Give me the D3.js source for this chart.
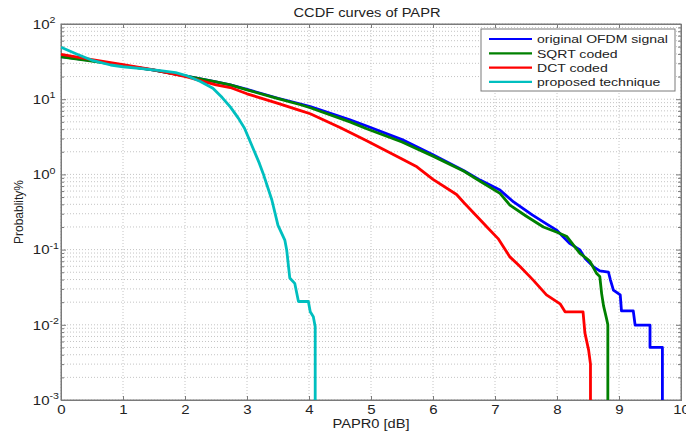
<!DOCTYPE html>
<html><head><meta charset="utf-8">
<script src="https://cdn.jsdelivr.net/npm/d3@7"></script>
<style>
body{margin:0;background:#fff;}
text{font-family:"Liberation Sans",Arial,sans-serif;}
</style></head>
<body><svg id="c" width="686" height="432"></svg>
<script>
const seriesNames = ["original OFDM signal","SQRT coded","DCT coded","proposed technique"];
const seriesColors = ["#0000ff","#008000","#ff0000","#00bfbf"];
const xTicks = [0,1,2,3,4,5,6,7,8,9,10];
const yTickExps = [2,1,0,-1,-2,-3];

const ofdmX = [0,0.5,1.0,1.5,2.0,2.5,2.73,3.0,3.5,3.85,4.02,4.66,4.93,5.5,6.0,6.5,6.76,7.08,7.3,7.6,7.83,8.0,8.21,8.37,8.45,8.59,8.69,8.83,8.86,8.91,9.02,9.04,9.23,9.26,9.50,9.50,9.70,9.70];
const ofdmY = [37,32.5,28.2,24.3,20.5,17,15.5,13.5,10.3,8.7,8.0,5.3,4.4,2.9,1.82,1.12,0.84,0.62,0.43,0.29,0.22,0.18,0.12,0.099,0.077,0.059,0.052,0.05,0.04,0.029,0.025,0.0153,0.0153,0.0099,0.0099,0.005,0.005,0.001];

const sqrtX = [0,0.5,1.0,1.5,2.0,2.5,2.73,3.0,3.5,3.85,4.02,4.66,4.93,5.5,6.0,6.5,6.76,7.08,7.24,7.5,7.78,8.0,8.16,8.37,8.48,8.53,8.64,8.69,8.72,8.75,8.80,8.82,8.82];
const sqrtY = [36.5,32,28,24.3,20.5,17,15.5,13.3,10.2,8.5,7.7,5.0,4.05,2.7,1.75,1.1,0.81,0.56,0.39,0.28,0.20,0.17,0.149,0.089,0.076,0.07,0.048,0.044,0.026,0.018,0.012,0.01,0.001];

const dctX = [0,0.5,1.0,1.5,2.03,2.5,2.73,3.0,3.5,3.85,4.02,4.5,4.93,5.5,5.74,6.0,6.38,6.5,6.76,6.87,7.05,7.24,7.4,7.62,7.83,8.05,8.13,8.42,8.45,8.51,8.54,8.54];
const dctY = [39.5,33.5,28.8,24.5,19.8,15.5,14.3,11.8,8.8,7.1,6.4,4.2,2.8,1.6,1.26,0.86,0.54,0.42,0.25,0.2,0.14,0.08,0.06,0.039,0.025,0.019,0.0149,0.0149,0.0078,0.0046,0.003,0.001];

const propX = [0,0.25,0.52,0.8,1.0,1.3,1.6,1.85,2.03,2.24,2.45,2.6,2.73,2.86,2.96,3.08,3.2,3.26,3.40,3.50,3.61,3.64,3.69,3.77,3.83,3.99,4.02,4.07,4.10,4.10];
const propY = [49,40,32.5,28.5,27,25.5,24,22.5,20.5,17.3,14,10.5,7.9,5.6,4.1,2.4,1.4,1.03,0.46,0.21,0.134,0.099,0.042,0.0356,0.0204,0.0204,0.0149,0.0128,0.0094,0.001];

const seriesX = [ofdmX,sqrtX,dctX,propX];
const seriesY = [ofdmY,sqrtY,dctY,propY];

const L=61,R=681,T=24,B=400;
const svg=d3.select("#c");
const x=d3.scaleLinear().domain([0,10]).range([L,R]);
const y=d3.scaleLog().domain([1e-3,1e2]).range([B,T]);
const K=1.25;
function stretch(sel,k){
  sel.each(function(){
    const l=this.getComputedTextLength();
    d3.select(this).attr("textLength",l*k).attr("lengthAdjust","spacingAndGlyphs");
  });
}

// grid
const g=svg.append("g");
const minorY=[];
for(let e=-3;e<2;e++) for(let m=1;m<10;m++) minorY.push(m*Math.pow(10,e));
minorY.push(100);
g.selectAll("line.gy").data(minorY).enter().append("line")
 .attr("x1",L).attr("x2",R).attr("y1",d=>y(d)).attr("y2",d=>y(d))
 .attr("stroke","#c4c4c4").attr("stroke-width",1).attr("stroke-dasharray","1,2");
g.selectAll("line.gx").data(xTicks).enter().append("line")
 .attr("y1",T).attr("y2",B).attr("x1",d=>x(d)).attr("x2",d=>x(d))
 .attr("stroke","#c4c4c4").attr("stroke-width",1).attr("stroke-dasharray","1,2");

// axes (ticks inward)
const ax=svg.append("g").attr("transform",`translate(0,${B})`)
 .call(d3.axisBottom(x).tickValues(xTicks).tickSize(-4).tickPadding(5).tickFormat(d3.format("d")));
svg.append("g").attr("transform",`translate(0,${T})`)
 .call(d3.axisTop(x).tickValues(xTicks).tickSize(-4).tickFormat(""));
const ayMinor=minorY.filter(v=>!yTickExps.some(e=>Math.abs(Math.log10(v)-e)<1e-9));
svg.append("g").attr("transform",`translate(${L},0)`)
 .call(d3.axisLeft(y).tickValues(yTickExps.map(e=>Math.pow(10,e))).tickSize(-5).tickFormat(""));
svg.append("g").attr("transform",`translate(${L},0)`)
 .call(d3.axisLeft(y).tickValues(ayMinor).tickSize(-3).tickFormat(""));
svg.append("g").attr("transform",`translate(${R},0)`)
 .call(d3.axisRight(y).tickValues(yTickExps.map(e=>Math.pow(10,e))).tickSize(-5).tickFormat(""));
svg.append("g").attr("transform",`translate(${R},0)`)
 .call(d3.axisRight(y).tickValues(ayMinor).tickSize(-3).tickFormat(""));
svg.selectAll(".domain").attr("stroke","#7a7a7a");
svg.selectAll(".tick line").attr("stroke","#7a7a7a");
ax.selectAll("text").attr("font-size",12).attr("fill","#222").attr("font-family","Liberation Sans, Arial, sans-serif");
stretch(ax.selectAll("text"),K);

// y tick labels with superscript
const yl=svg.append("g");
yTickExps.forEach(e=>{
  const yy=y(Math.pow(10,e));
  const t=yl.append("text").attr("x",49.5).attr("y",yy+4.8)
   .attr("text-anchor","end").attr("font-size",12).attr("fill","#222").text("10");
  stretch(t,K);
  const s=yl.append("text").attr("x",49.5).attr("y",yy-0.8)
   .attr("font-size",8.5).attr("fill","#222").text(String(e));
  stretch(s,K);
});

// border
svg.append("rect").attr("x",L).attr("y",T).attr("width",R-L).attr("height",B-T)
 .attr("fill","none").attr("stroke","#7a7a7a");

// curves
svg.append("clipPath").attr("id","cp").append("rect")
 .attr("x",L).attr("y",T).attr("width",R-L).attr("height",B-T);
const line=d3.line().x(d=>x(d[0])).y(d=>y(d[1]));
seriesNames.forEach((n,i)=>{
  const pts=seriesX[i].map((v,j)=>[v,seriesY[i][j]]);
  svg.append("path").attr("d",line(pts)).attr("fill","none")
   .attr("stroke",seriesColors[i]).attr("stroke-width",2.8)
   .attr("stroke-linejoin","round").attr("clip-path","url(#cp)");
});

// title and labels
const tt=svg.append("text").attr("x",367).attr("y",17).attr("text-anchor","middle")
 .attr("font-size",12).attr("fill","#222").text("CCDF curves of PAPR");
stretch(tt,1.22);
const xl=svg.append("text").attr("x",371).attr("y",428).attr("text-anchor","middle")
 .attr("font-size",12).attr("fill","#222").text("PAPR0 [dB]");
stretch(xl,1.22);
svg.append("text").attr("transform","translate(22.5,212) rotate(-90)").attr("text-anchor","middle")
 .attr("font-size",12).attr("fill","#222").text("Probablity%");

// legend
const lg=svg.append("g");
lg.append("rect").attr("x",481).attr("y",29).attr("width",194).attr("height",62)
 .attr("fill","#fff").attr("stroke","#7a7a7a");
seriesNames.forEach((n,i)=>{
  const yy=39+i*14.3;
  lg.append("line").attr("x1",489).attr("x2",532).attr("y1",yy).attr("y2",yy)
   .attr("stroke",seriesColors[i]).attr("stroke-width",2.2);
  const t=lg.append("text").attr("x",537).attr("y",yy+4.3).attr("font-size",11.5).attr("fill","#222").text(n);
  stretch(t,1.22);
});
</script></body></html>
